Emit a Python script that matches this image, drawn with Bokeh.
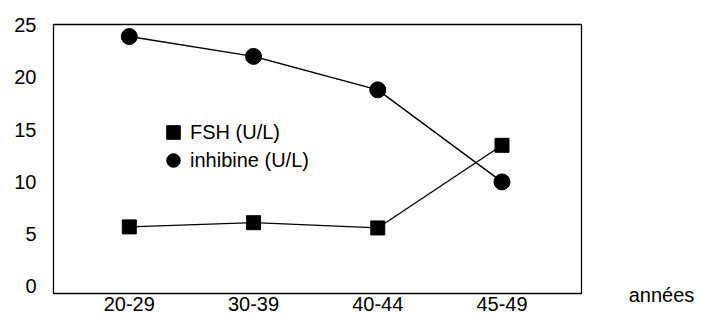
from bokeh.plotting import figure
from bokeh.models import Range1d, FixedTicker, Legend, LegendItem, Label, ColumnDataSource
from bokeh.embed import file_html
from bokeh.resources import INLINE

categories = ["20-29", "30-39", "40-44", "45-49"]
fsh = [5.7, 6.1, 5.6, 13.5]
inhibine = [23.9, 22.0, 18.8, 10.0]
y_ticks = [0, 5, 10, 15, 20, 25]
x_title = "années"
fsh_label = "FSH (U/L)"
inh_label = "inhibine (U/L)"

xi = list(range(len(categories)))
src = ColumnDataSource(dict(x=xi, fsh=fsh, inh=inhibine))

FONT = "Liberation Sans"

p = figure(width=707, height=316, output_backend="svg", toolbar_location=None,
           x_range=Range1d(-0.61, 3.64), y_range=Range1d(-0.67, 25.05),
           min_border_left=53, min_border_top=24, min_border_right=126, min_border_bottom=23)

p.xgrid.visible = False
p.ygrid.visible = False
p.outline_line_color = "black"
p.outline_line_width = 1.3
p.background_fill_color = "white"
p.border_fill_color = "white"

p.xaxis.ticker = FixedTicker(ticks=xi)
p.xaxis.major_label_overrides = {i: c for i, c in zip(xi, categories)}
p.yaxis.ticker = FixedTicker(ticks=y_ticks)
for ax in (p.xaxis, p.yaxis):
    ax.axis_line_color = None
    ax.major_tick_line_color = None
    ax.minor_tick_line_color = None
    ax.major_tick_out = 0
    ax.major_tick_in = 0
    ax.minor_tick_out = 0
    ax.minor_tick_in = 0
    ax.major_label_text_font = FONT
    ax.major_label_text_color = "black"
p.xaxis.major_label_text_font_size = "20px"
p.xaxis.major_label_standoff = 3
p.yaxis.major_label_text_font_size = "20px"
p.yaxis.major_label_standoff = 17

p.line("x", "inh", source=src, line_color="black", line_width=1.4)
p.line("x", "fsh", source=src, line_color="black", line_width=1.3)
r_inh = p.scatter("x", "inh", source=src, marker="circle", size=16, fill_color="black", line_color="black")
r_fsh = p.scatter("x", "fsh", source=src, marker="square", size=14, fill_color="black", line_color="black")

def mk_legend(label, rend, loc, gw=34, gh=34):
    lg = Legend(items=[LegendItem(label=label, renderers=[rend])], location=loc,
                glyph_width=gw, glyph_height=gh, label_standoff=0, padding=0, margin=0,
                spacing=0, border_line_color=None, background_fill_alpha=0,
                label_text_font=FONT, label_text_font_size="20px", label_text_color="black")
    return lg

p.add_layout(mk_legend(fsh_label, r_fsh, (103, 144)), "center")
p.add_layout(mk_legend(inh_label, r_inh, (103, 116)), "center")

# axis title at the lower right, outside the frame (as in the reference)
p.add_layout(Label(x=4.02, y=-0.8, text=x_title, text_font=FONT, text_font_size="20px",
                   text_color="black", text_baseline="alphabetic", text_align="left"), "right")

open("out.html", "w").write(file_html(p, INLINE))
